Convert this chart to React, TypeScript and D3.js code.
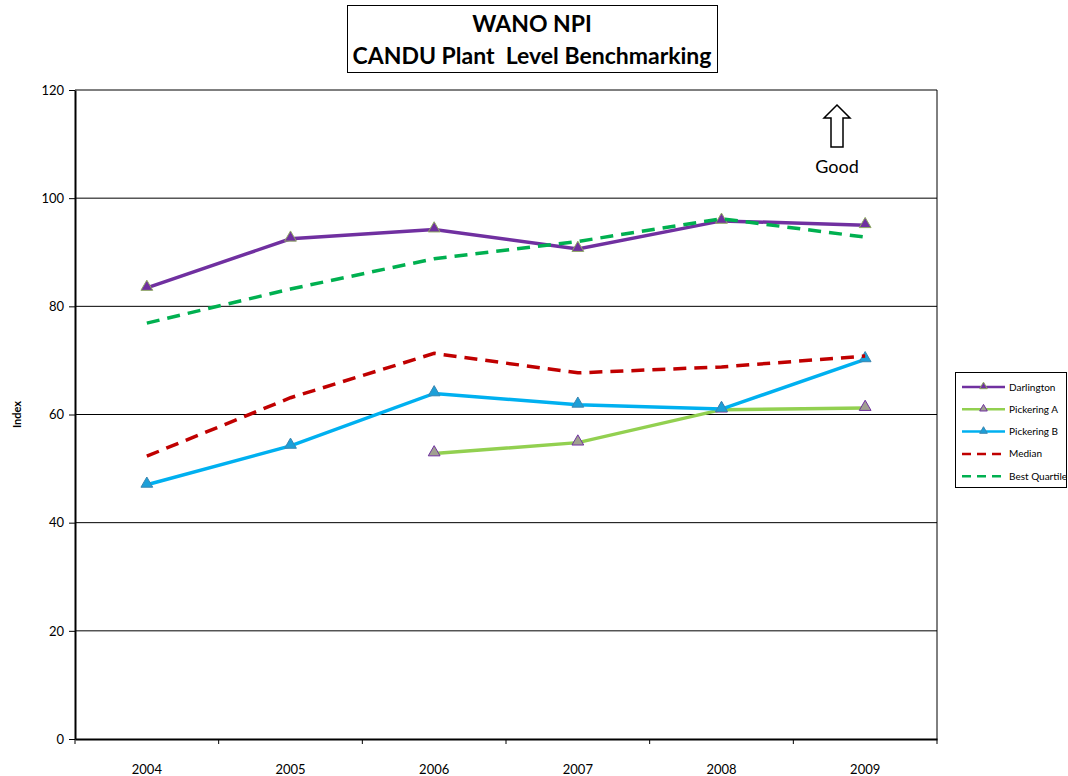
import React, { useEffect, useRef } from 'react';
import * as d3 from 'd3';

const years = ['2004', '2005', '2006', '2007', '2008', '2009'];
const yTicks = [0, 20, 40, 60, 80, 100, 120];

const darlington = [83.4, 92.5, 94.2, 90.6, 95.8, 95.0];
const pickeringA = [null, null, 52.8, 54.8, 60.9, 61.2];
const pickeringB = [47.0, 54.2, 63.9, 61.8, 61.0, 70.2];
const median = [52.3, 63.1, 71.3, 67.7, 68.8, 70.8];
const bestQuartile = [76.9, 83.2, 88.8, 92.0, 96.2, 92.8];

const series = [
  { name: 'Darlington', values: darlington, color: '#7030A0', dash: null, marker: { fill: '#7030A0', stroke: '#8FA863' } },
  { name: 'Pickering A', values: pickeringA, color: '#92D050', dash: null, marker: { fill: '#A0A090', stroke: '#7030A0' } },
  { name: 'Pickering B', values: pickeringB, color: '#00B0F0', dash: null, marker: { fill: '#1C9FD8', stroke: '#3C86B0' } },
  { name: 'Median', values: median, color: '#C00000', dash: '13,8', marker: null },
  { name: 'Best Quartile', values: bestQuartile, color: '#00B050', dash: '13,8', marker: null },
];

const App = () => {
  const ref = useRef<SVGSVGElement>(null);

  useEffect(() => {
    document.body.style.margin = '0';
    const svg = d3.select(ref.current);
    svg.selectAll('*').remove();

    const margin = { top: 90, right: 131, bottom: 37, left: 75 };
    const W = 1068;
    const H = 776;
    const width = W - margin.left - margin.right;
    const height = H - margin.top - margin.bottom;
    const font = 'Lato, "Open Sans", sans-serif';

    svg.append('rect').attr('width', W).attr('height', H).attr('fill', '#fff');

    const x = d3.scaleBand().domain(years).range([0, width]);
    const y = d3.scaleLinear().domain([0, 120]).range([height, 0]);
    const cx = (d: string) => (x(d) ?? 0) + x.bandwidth() / 2;

    const g = svg.append('g').attr('transform', `translate(${margin.left},${margin.top})`);

    // gridlines
    g.selectAll('.grid')
      .data(yTicks.filter(t => t > 0))
      .enter()
      .append('line')
      .attr('x1', 0)
      .attr('x2', width)
      .attr('y1', d => y(d))
      .attr('y2', d => y(d))
      .attr('stroke', '#000')
      .attr('stroke-width', 1);

    // right border
    g.append('line')
      .attr('x1', width).attr('x2', width)
      .attr('y1', 0).attr('y2', height)
      .attr('stroke', '#000').attr('stroke-width', 1);

    // y axis
    const yAxis = g.append('g').call(d3.axisLeft(y).tickValues(yTicks).tickSize(6).tickSizeOuter(0));
    yAxis.select('.domain').attr('stroke-width', 2);
    yAxis.selectAll('text').attr('font-family', font).attr('font-size', 13).attr('fill', '#000').attr('dx', -2);

    // x axis
    const xAxis = g.append('g')
      .attr('transform', `translate(0,${height})`)
      .call(d3.axisBottom(x).tickSize(0));
    xAxis.select('.domain').attr('stroke-width', 2);
    xAxis.selectAll('text').attr('font-family', font).attr('font-size', 13).attr('fill', '#000').attr('dy', 32);
    xAxis.selectAll('.sep')
      .data([...years.map(d => x(d) ?? 0), width])
      .enter()
      .append('line')
      .attr('x1', d => d).attr('x2', d => d)
      .attr('y1', 0).attr('y2', 5)
      .attr('stroke', '#000').attr('stroke-width', 1);

    svg.append('text')
      .attr('transform', `translate(21,${margin.top + height / 2}) rotate(-90)`)
      .attr('text-anchor', 'middle')
      .attr('font-family', font)
      .attr('font-size', 11)
      .attr('font-weight', 'bold')
      .text('Index');

    // series
    const tri = d3.symbol().type(d3.symbolTriangle).size(60);
    series.forEach(s => {
      const pts = s.values.map((v, i) => ({ year: years[i], v })).filter(p => p.v != null) as { year: string; v: number }[];
      const line = d3.line<{ year: string; v: number }>().x(d => cx(d.year)).y(d => y(d.v));
      g.append('path')
        .datum(pts)
        .attr('fill', 'none')
        .attr('stroke', s.color)
        .attr('stroke-width', 3.5)
        .attr('stroke-dasharray', s.dash)
        .attr('d', line);
      if (s.marker) {
        g.selectAll(null)
          .data(pts)
          .enter()
          .append('path')
          .attr('d', tri)
          .attr('transform', d => `translate(${cx(d.year)},${y(d.v) - 1})`)
          .attr('fill', s.marker.fill)
          .attr('stroke', s.marker.stroke)
          .attr('stroke-width', 1);
      }
    });

    // title
    svg.append('rect')
      .attr('x', 347.5).attr('y', 5.5).attr('width', 370).attr('height', 67)
      .attr('fill', '#fff').attr('stroke', '#000').attr('stroke-width', 1);
    svg.append('text')
      .attr('x', 532).attr('y', 32)
      .attr('text-anchor', 'middle')
      .attr('font-family', font).attr('font-size', 23).attr('font-weight', 'bold')
      .text('WANO NPI');
    svg.append('text')
      .attr('x', 532).attr('y', 64)
      .attr('text-anchor', 'middle')
      .attr('font-family', font).attr('font-size', 23).attr('font-weight', 'bold')
      .attr('xml:space', 'preserve')
      .style('white-space', 'pre')
      .text('CANDU Plant  Level Benchmarking');

    // "Good" arrow
    const ax = 837;
    svg.append('path')
      .attr('d', `M${ax},105 L${ax + 13},118 L${ax + 6},118 L${ax + 6},147 L${ax - 6},147 L${ax - 6},118 L${ax - 13},118 Z`)
      .attr('fill', '#fff').attr('stroke', '#000').attr('stroke-width', 1.5);
    svg.append('text')
      .attr('x', ax).attr('y', 173)
      .attr('text-anchor', 'middle')
      .attr('font-family', font).attr('font-size', 18)
      .text('Good');

    // legend
    const lg = svg.append('g').attr('transform', 'translate(955,372)');
    lg.append('rect')
      .attr('x', 0.5).attr('y', 0.5).attr('width', 111).attr('height', 115)
      .attr('fill', '#fff').attr('stroke', '#000').attr('stroke-width', 1);
    series.forEach((s, i) => {
      const ly = 15 + i * 22.3;
      lg.append('line')
        .attr('x1', 7).attr('x2', 50)
        .attr('y1', ly).attr('y2', ly)
        .attr('stroke', s.color).attr('stroke-width', 2.5)
        .attr('stroke-dasharray', s.dash ? '9,6' : null);
      if (s.marker) {
        lg.append('path')
          .attr('d', d3.symbol().type(d3.symbolTriangle).size(25)())
          .attr('transform', `translate(28.5,${ly - 0.5})`)
          .attr('fill', s.marker.fill)
          .attr('stroke', s.marker.stroke)
          .attr('stroke-width', 1);
      }
      lg.append('text')
        .attr('x', 54).attr('y', ly + 3.5)
        .attr('font-family', font).attr('font-size', 10)
        .text(s.name);
    });
  }, []);

  return <svg ref={ref} width={1068} height={776} style={{ display: 'block' }}></svg>;
};

export default App;
